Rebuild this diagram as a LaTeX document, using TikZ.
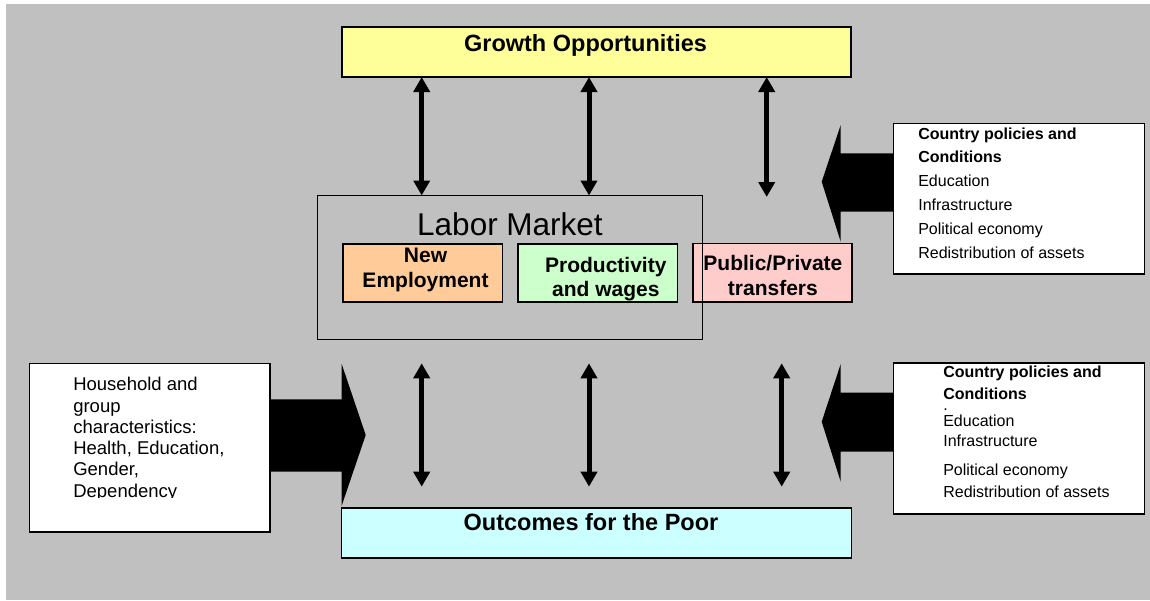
\documentclass[tikz,border=0pt]{standalone}
\usepackage{fontspec}
\setmainfont{Liberation Sans}
\usetikzlibrary{arrows.meta}
\definecolor{bgc}{HTML}{C0C0C0}
\definecolor{yellowc}{HTML}{FFFF99}
\definecolor{orangec}{HTML}{FFCC99}
\definecolor{greenc}{HTML}{CCFFCC}
\definecolor{pinkc}{HTML}{FFCCCC}
\definecolor{cyanc}{HTML}{CCFFFF}
\tikzset{
  box/.style={draw=black, line width=1.6pt, rectangle, inner sep=0pt, outer sep=0pt},
  frame/.style={draw=black, line width=1.3pt, rectangle, inner sep=0pt, outer sep=0pt},
  txt/.style={inner sep=0pt, outer sep=0pt},
  dbl/.style={line width=5pt, {Triangle[width=16pt,length=15pt]}-{Triangle[width=16pt,length=15pt]}},
  blockarrow/.style={fill=black}
}
\begin{document}
\begin{tikzpicture}[x=1pt,y=-1pt]
\useasboundingbox (0,0) rectangle (1150,600);
\fill[white] (0,0) rectangle (1150,600);
\fill[bgc] (6,4) rectangle (1150,600);

% boxes
\node[box, fill=yellowc, minimum width=509pt, minimum height=50pt] (growth) at (596.5,52) {};
\node[box, fill=orangec, minimum width=159.6pt, minimum height=58.3pt] (newemp) at (422.5,272.85) {};
\node[box, fill=greenc, minimum width=159.6pt, minimum height=58.3pt] (prod) at (597.5,272.85) {};
\node[box, fill=pinkc, minimum width=159pt, minimum height=58.5pt] (pub) at (772.2,272.75) {};
\node[frame, minimum width=384.6pt, minimum height=143.8pt] (labor) at (510,267.4) {};
\node[box, fill=cyanc, minimum width=509.9pt, minimum height=50pt] (outcomes) at (596.5,532.7) {};

% block arrows
\fill[blockarrow] (270,399.3) -- (341.7,399.3) -- (341.7,364) -- (365.7,435) -- (341.7,505.7) -- (341.7,471.7) -- (270,471.7) -- cycle;
\fill[blockarrow] (893.3,153.3) -- (840.7,153.3) -- (840.7,125) -- (821.7,181.7) -- (840.7,241.7) -- (840.7,211.7) -- (893.3,211.7) -- cycle;
\fill[blockarrow] (893.3,392.7) -- (840.7,392.7) -- (840.7,364) -- (821.7,421.7) -- (840.7,481.7) -- (840.7,451.7) -- (893.3,451.7) -- cycle;

\node[box, fill=white, minimum width=240.7pt, minimum height=168.4pt] (house) at (149.65,447.5) {};
\node[box, fill=white, minimum width=251pt, minimum height=150.7pt] (cp1) at (1018.8,198.65) {};
\node[box, fill=white, minimum width=251pt, minimum height=151.3pt] (cp2) at (1018.8,438.35) {};

% double arrows
\coordinate (x1) at (421.7,0);
\coordinate (x2) at (589,0);
\coordinate (t3) at (766.7,197);
\draw[dbl] (x1 |- growth.south) -- (x1 |- labor.north);
\draw[dbl] (x2 |- growth.south) -- (x2 |- labor.north);
\draw[dbl] (t3 |- growth.south) -- (t3);
\coordinate (b1t) at (421.7,363.3);
\coordinate (b1b) at (421.7,486.7);
\coordinate (b2t) at (589,363.3);
\coordinate (b2b) at (589,486.7);
\coordinate (b3t) at (781.7,363.3);
\coordinate (b3b) at (781.7,486.7);
\draw[dbl] (b1t) -- (b1b);
\draw[dbl] (b2t) -- (b2b);
\draw[dbl] (b3t) -- (b3b);

% texts (multi-line nodes: base = baseline of last line)
\node[txt, anchor=base, font=\bfseries\fontsize{23.5}{28}\selectfont] (growthT) at (585.5,51.7) {Growth Opportunities};
\node[txt, anchor=base, font=\fontsize{31.5}{36}\selectfont] (laborT) at (510,235) {Labor Market};
\node[txt, anchor=base, align=center, font=\bfseries\fontsize{21}{24.6}\selectfont] (newT) at (425.5,287.3) {New\\Employment};
\node[txt, anchor=base, align=center, font=\bfseries\fontsize{21}{24}\selectfont] (prodT) at (605.8,296.7) {Productivity\\and wages};
\node[txt, anchor=base, align=center, font=\bfseries\fontsize{21}{24.5}\selectfont] (pubT) at (772.9,295) {Public/Private\\transfers};
\node[txt, anchor=base, font=\bfseries\fontsize{23.5}{28}\selectfont] (outT) at (591,530.7) {Outcomes for the Poor};

\begin{scope}
\clip (0,0) rectangle (1150,497.5);
\node[txt, anchor=base west, align=left, font=\fontsize{18.5}{21.3}\selectfont] (houseT) at (73.3,497.2) {Household and\\group\\characteristics:\\Health, Education,\\Gender,\\Dependency};
\end{scope}

\node[txt, anchor=base west, align=left, font=\fontsize{16}{23.9}\selectfont] (cp1T) at (918.3,258.5) {\textbf{Country policies and}\\\textbf{Conditions}\\\rlap{\raisebox{9pt}{.}}Education\\Infrastructure\\Political economy\\Redistribution of assets};

\node[txt, anchor=base west, align=left, font=\fontsize{16}{22}\selectfont] (cp2T) at (943.3,497.3) {\textbf{Country policies and}\\\textbf{Conditions}\\[5.4pt]\rlap{\raisebox{16pt}{.}}Education\\[-2.7pt]Infrastructure\\[7pt]Political economy\\[0.3pt]Redistribution of assets};
\end{tikzpicture}
\end{document}
